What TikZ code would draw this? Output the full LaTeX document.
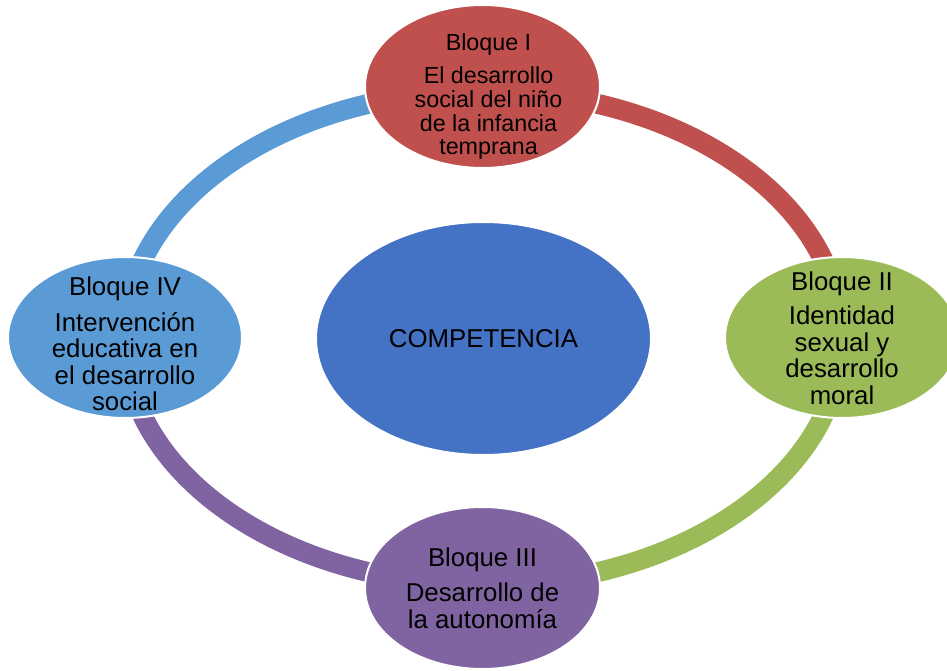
\documentclass[tikz,border=0pt]{standalone}
\usepackage{fontspec}
\setmainfont{Liberation Sans}
\usetikzlibrary{shapes.geometric}
\definecolor{cred}{HTML}{C0504D}
\definecolor{cgreen}{HTML}{9BBB59}
\definecolor{cpurple}{HTML}{8064A2}
\definecolor{clblue}{HTML}{5B9BD5}
\definecolor{ccenter}{HTML}{4472C4}
\newcommand{\blocktext}[2]{\raisebox{#1}[0pt][0pt]{\begin{tabular}[b]{@{}c@{}}#2\end{tabular}}}
\tikzset{
  ringarc/.style={line width=20pt, line cap=butt},
  bloque/.style={ellipse, draw=white, line width=2pt, inner sep=0pt, text=black,
    font=\fontsize{25.8pt}{26.5pt}\selectfont},
  bloquetop/.style={bloque, font=\fontsize{23.3pt}{23.5pt}\selectfont}
}
\begin{document}
\begin{tikzpicture}[x=1pt,y=1pt]
\useasboundingbox (0,0) rectangle (947,670);
\coordinate (ring) at (483,332);
% arcs
\draw[ringarc, cred] ([shift={(90:358.5 and 247)}]ring) arc[start angle=90, end angle=0, x radius=358.5, y radius=247];
\draw[ringarc, cgreen] ([shift={(0:358.5 and 247)}]ring) arc[start angle=0, end angle=-90, x radius=358.5, y radius=247];
\draw[ringarc, cpurple] ([shift={(-90:358.5 and 247)}]ring) arc[start angle=-90, end angle=-180, x radius=358.5, y radius=247];
\draw[ringarc, clblue] ([shift={(180:358.5 and 247)}]ring) arc[start angle=180, end angle=90, x radius=358.5, y radius=247];
% nodes
\node[bloque, fill=ccenter, minimum width=335pt, minimum height=233pt] (comp) at (483.5,331.5) {COMPETENCIA};
\node[bloquetop, fill=cred, minimum width=235pt, minimum height=163pt] (b1) at (482.5,583.5)
  {\hspace*{12pt}\blocktext{-68.5pt}{Bloque I\\[9pt]El desarrollo\\social del niño\\de la infancia\\temprana}};
\node[bloque, fill=cgreen, minimum width=234pt, minimum height=161pt] (b2) at (842,332.5)
  {\blocktext{-67pt}{Bloque II\\[7pt]Identidad\\sexual y\\desarrollo\\moral}};
\node[bloque, fill=cpurple, minimum width=235pt, minimum height=162pt] (b3) at (482.5,82)
  {\blocktext{-40.5pt}{Bloque III\\[8.5pt]Desarrollo de\\la autonomía}};
\node[bloque, fill=clblue, minimum width=234pt, minimum height=161pt] (b4) at (125,332.5)
  {\blocktext{-73.5pt}{Bloque IV\\[9pt]Intervención\\educativa en\\el desarrollo\\social}};
\end{tikzpicture}
\end{document}
